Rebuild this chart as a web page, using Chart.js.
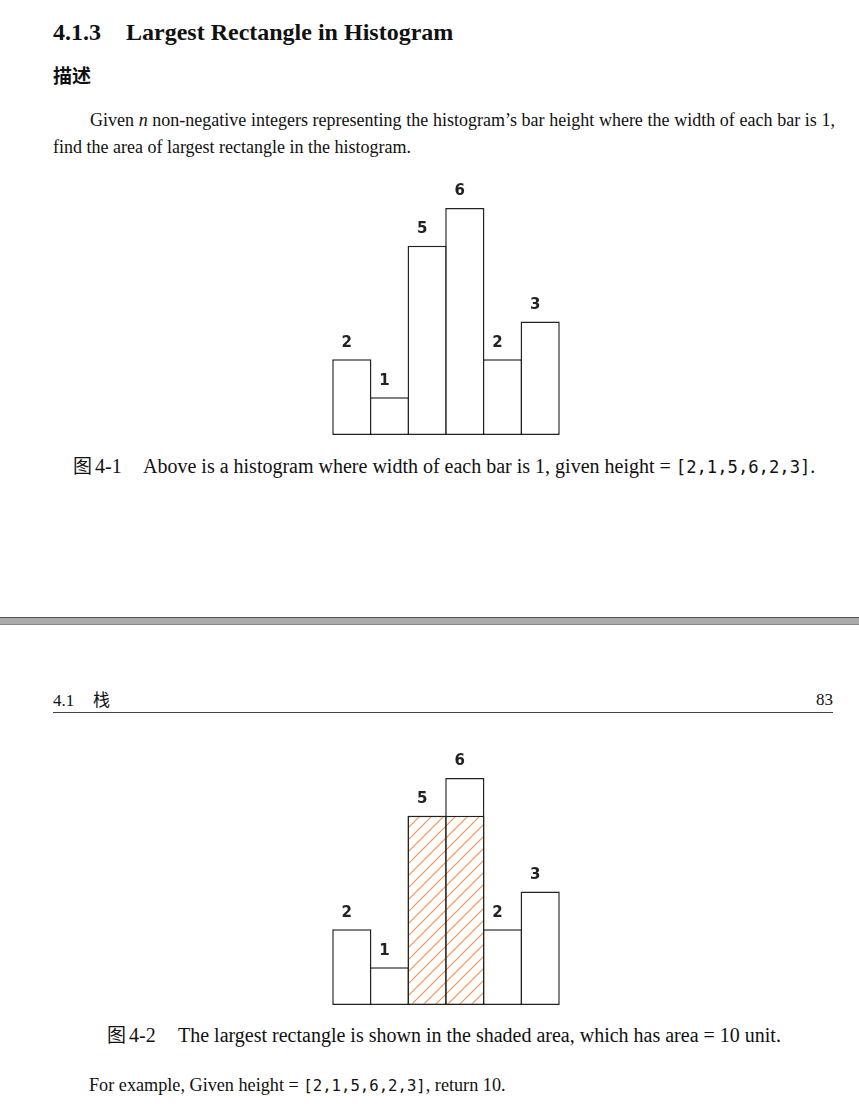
<!DOCTYPE html>
<html>
<head>
<meta charset="utf-8">
<script src="https://cdn.jsdelivr.net/npm/chart.js@4.4.1/dist/chart.umd.min.js"></script>
<style>
  body { margin: 0; background: #fff; width: 859px; height: 1117px; position: relative; overflow: hidden;
         font-family: "Liberation Serif", serif; color: #111; }
  .t { position: absolute; white-space: nowrap; line-height: 1; }
  .cjk { font-family: "Noto Sans CJK SC", sans-serif; }
  .mono { font-family: "DejaVu Sans Mono", monospace; font-size: 0.86em; }
  .box { position: absolute; }
  .band { position: absolute; left: 0; top: 617px; width: 859px; height: 6px; background: #aaa;
          border-top: 1px solid #555; border-bottom: 1px solid #888; }
  .rule { position: absolute; left: 53px; top: 712px; width: 780px; height: 1px; background: #444; }
</style>
</head>
<body>

<div class="t" style="left:53px;top:20px;font-size:24px;font-weight:bold">4.1.3</div>
<div class="t" style="left:126px;top:20px;font-size:24px;font-weight:bold">Largest Rectangle in Histogram</div>
<div class="t cjk" style="left:53px;top:65px;font-size:19px;font-weight:bold">描述</div>

<div class="t" style="left:90px;top:111px;width:745px;font-size:18px;text-align:justify;text-align-last:justify;white-space:normal">Given <i>n</i> non-negative integers representing the histogram’s bar height where the width of each bar is 1,</div>
<div class="t" style="left:53px;top:138px;font-size:18px">find the area of largest rectangle in the histogram.</div>

<div class="box" style="left:323px;top:175px"><canvas id="chart1" width="246" height="265"></canvas></div>

<div class="t cjk" style="left:73px;top:455px;font-size:19px">图</div>
<div class="t" style="left:95px;top:456px;font-size:20px">4-1</div>
<div class="t" style="left:143px;top:456px;font-size:20px">Above is a histogram where width of each bar is 1, given height = <span class="mono">[2,1,5,6,2,3]</span>.</div>

<div class="band"></div>

<div class="t" style="left:53px;top:692px;font-size:17px">4.1</div>
<div class="t cjk" style="left:93px;top:690px;font-size:17px">栈</div>
<div class="t" style="right:26px;top:691px;font-size:17px">83</div>
<div class="rule"></div>

<div class="box" style="left:323px;top:745px"><canvas id="chart2" width="246" height="265"></canvas></div>

<div class="t cjk" style="left:107px;top:1024px;font-size:19px">图</div>
<div class="t" style="left:129px;top:1025px;font-size:20px">4-2</div>
<div class="t" style="left:178px;top:1025px;font-size:20px">The largest rectangle is shown in the shaded area, which has area = 10 unit.</div>

<div class="t" style="left:89px;top:1076px;font-size:18.2px">For example, Given height = <span class="mono">[2,1,5,6,2,3]</span>, return 10.</div>

<script>
// histogram data
const categories = ['0', '1', '2', '3', '4', '5'];
const heights = [2, 1, 5, 6, 2, 3];
// largest rectangle: bars 2..3 at height 5
const shaded = [null, null, 5, 5, null, null];

// value labels above each bar
const barLabels = {
  id: 'barLabels',
  afterDatasetsDraw(chart) {
    const ctx = chart.ctx;
    const meta = chart.getDatasetMeta(0);
    const y = chart.scales.y;
    ctx.save();
    ctx.font = 'bold 15px "DejaVu Sans"';
    ctx.fillStyle = '#222';
    ctx.textAlign = 'center';
    ctx.textBaseline = 'middle';
    meta.data.forEach((bar, i) => {
      ctx.fillText(String(heights[i]), bar.x - 5, y.getPixelForValue(heights[i]) - 16.5);
    });
    ctx.restore();
  }
};

// orange "/" hatch, 12px apart
function hatch(ctx) {
  const n = 12;
  const c = document.createElement('canvas');
  c.width = n; c.height = n;
  const g = c.getContext('2d');
  g.fillStyle = '#fff';
  g.fillRect(0, 0, n, n);
  g.strokeStyle = '#f29450';
  g.lineWidth = 1.2;
  g.beginPath();
  for (const off of [-n, 0, n]) {
    g.moveTo(off - 1, n + 1);
    g.lineTo(off + n + 1, -1);
  }
  g.stroke();
  return ctx.createPattern(c, 'repeat');
}

function makeChart(id, withShade) {
  const canvas = document.getElementById(id);
  const datasets = [{
    data: heights,
    backgroundColor: '#fff',
    borderColor: '#222',
    borderWidth: 1.5,
    borderSkipped: false,
    order: 2,
    clip: false
  }];
  if (withShade) {
    datasets.push({
      data: shaded,
      backgroundColor: hatch(canvas.getContext('2d')),
      borderColor: '#222',
      borderWidth: 1.5,
      borderSkipped: false,
      order: 1,
      clip: false
    });
  }
  return new Chart(canvas, {
    type: 'bar',
    data: { labels: categories, datasets: datasets },
    options: {
      responsive: false,
      animation: false,
      layout: { padding: { left: 10, right: 10, top: 33, bottom: 5 } },
      datasets: { bar: { categoryPercentage: 1, barPercentage: 1.04, grouped: false } },
      plugins: { legend: { display: false }, tooltip: { enabled: false } },
      scales: {
        x: { display: false },
        y: { display: false, min: 0, max: 6 }
      }
    },
    plugins: [barLabels]
  });
}

makeChart('chart1', false);
makeChart('chart2', true);
</script>
</body>
</html>
